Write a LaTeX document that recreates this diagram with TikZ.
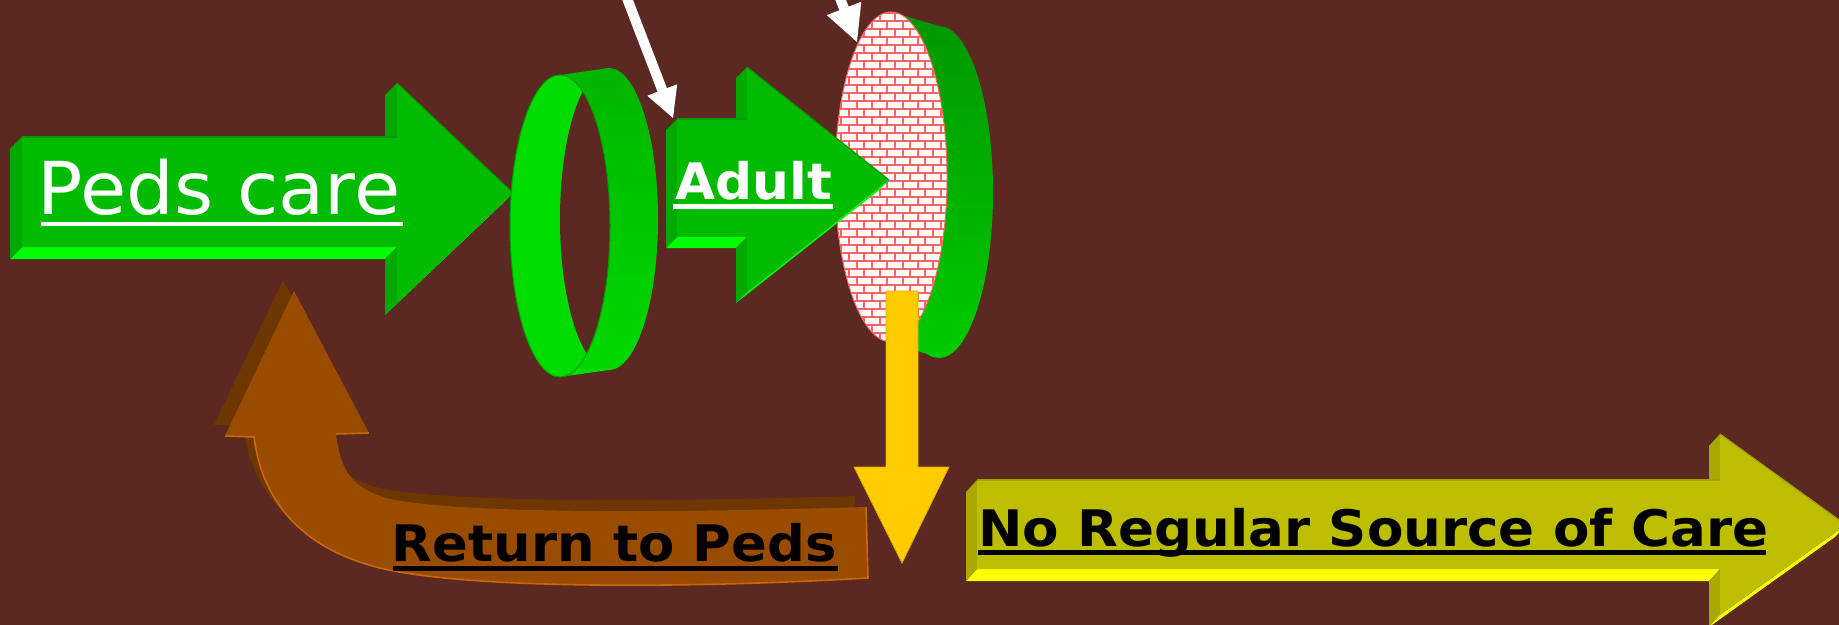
\documentclass[tikz,border=0pt]{standalone}
\usepackage{fontspec}
\setmainfont{DejaVu Sans}
\usetikzlibrary{calc}
\definecolor{bgc}{HTML}{5B2822}
\definecolor{gfront}{HTML}{00BB00}
\definecolor{gside}{HTML}{00A800}
\definecolor{gbottom}{HTML}{00FF00}
\definecolor{gedge}{HTML}{009A00}
\definecolor{ringin}{HTML}{00DC00}
\definecolor{ringtop}{HTML}{00B400}
\definecolor{ringbot}{HTML}{00DA00}
\definecolor{disctop}{HTML}{009400}
\definecolor{discbot}{HTML}{00CC00}
\definecolor{brickred}{HTML}{FF6464}
\definecolor{bfront}{HTML}{994C00}
\definecolor{bdark}{HTML}{6E3600}
\definecolor{bedge}{HTML}{CC6600}
\definecolor{ofront}{HTML}{BEBE00}
\definecolor{oside}{HTML}{A8A800}
\definecolor{obottom}{HTML}{FFFF00}
\definecolor{oedge}{HTML}{A0A000}
\definecolor{yarrow}{HTML}{FFCC00}
\definecolor{yedge}{HTML}{E0A800}

% 3D block arrow: L T B X HT HB TX TY ; extrusion \ax \ay
\newcommand\ArrowBox[8]{%
  \fill[bottomface] (#1,#3) -- (#4,#3) -- (#4+\ax,#3+\ay) -- (#1+\ax,#3+\ay) -- cycle;
  \fill[sideface] (#1,#2) -- (#1,#3) -- (#1+\ax,#3+\ay) -- (#1+\ax,#2+\ay) -- cycle;
  \fill[sideface] (#4,#5) -- (#4,#2) -- (#4+\ax,#2+\ay) -- (#4+\ax,#5+\ay) -- cycle;
  \fill[sideface] (#4,#3) -- (#4,#6) -- (#4+\ax,#6+\ay) -- (#4+\ax,#3+\ay) -- cycle;
  \fill[bottomface] (#4,#6) -- (#7,#8) -- (#7+\ax,#8+\ay) -- (#4+\ax,#6+\ay) -- cycle;
  \fill[frontface] (#1,#2) -- (#4,#2) -- (#4,#5) -- (#7,#8) -- (#4,#6) -- (#4,#3) -- (#1,#3) -- cycle;
  \draw[edgeline] (#1,#2) -- (#4,#2);
  \draw[edgeline] (#4,#5) -- (#7,#8);
}
\newcommand\BrownShape[1]{%
  \fill[#1] (294,291) -- (369,433) -- (336,434)
    .. controls (341,470) and (350,490) .. (395,500)
    .. controls (480,515) and (700,512) .. (866,507)
    -- (868,578)
    .. controls (700,588) and (470,590) .. (380,568)
    .. controls (300,548) and (262,500) .. (254,437)
    -- (225,436) -- cycle;}

\tikzset{
  lbl/.style={inner sep=0pt, anchor=base west},
  boldlbl/.style={lbl, font=\fontsize{50.3bp}{52bp}\selectfont\bfseries},
  greenarrow/.style={frontface/.style={fill=gfront}, sideface/.style={fill=gside},
    bottomface/.style={fill=gbottom}, edgeline/.style={draw=gedge, line width=1.2bp}},
  olivearrow/.style={frontface/.style={fill=ofront}, sideface/.style={fill=oside},
    bottomface/.style={fill=obottom}, edgeline/.style={draw=oedge, line width=1.2bp}},
  brickline/.style={draw=brickred, line width=2bp},
  whitearrow/.style={white, line width=10bp}
}

\begin{document}
\begin{tikzpicture}[x=1bp,y=-1bp]
\useasboundingbox (0,0) rectangle (1839,625);
\clip (0,0) rectangle (1839,625);
\fill[bgc] (0,0) rectangle (1839,625);

% ---- Return to Peds (brown curved arrow)
\BrownShape{bdark, shift={(-11,-11)}}
\BrownShape{bfront}
\draw[bedge, line width=1.6bp] (225,436) -- (254,437)
    .. controls (262,500) and (300,548) .. (380,568)
    .. controls (470,590) and (700,588) .. (868,578) -- (866,507);
\draw[bedge, line width=1.6bp] (336,434) -- (369,433);
\node[boldlbl, text=black] (ret) at (391.5,561.7) {\scalebox{1.05}[1]{Return to Peds}};
\fill[black] (393,565.5) rectangle (837.5,570.5);

% ---- Peds care arrow
\begin{scope}[greenarrow]
  \def\ax{-12}\def\ay{12}
  \ArrowBox{22}{137}{247}{397}{83}{303}{513}{193}
\end{scope}
\node[lbl, text=white, font=\fontsize{73bp}{75bp}\selectfont] (peds) at (37.5,215) {\scalebox{1.03}[1]{Peds care}};
\fill[white] (41,221.7) rectangle (403,225.7);

% ---- Ring 1 (open band)
\begin{scope}
  \clip (560,75) -- (609,68) -- (609,370) -- (560,377) -- cycle;
  \shade[top color=ringtop, bottom color=ringbot] (500,60) rectangle (670,380);
\end{scope}
\begin{scope}
  \clip (609,219) ellipse [x radius=49, y radius=151];
  \shade[top color=ringtop, bottom color=ringbot] (500,60) rectangle (670,380);
\end{scope}
\fill[ringin] (560,226) ellipse [x radius=50, y radius=151];
\begin{scope}
  \clip (560,226) ellipse [x radius=50, y radius=151];
  \fill[bgc] (609,219) ellipse [x radius=49, y radius=151];
\end{scope}
\draw[gedge, line width=1bp] (560,226) ellipse [x radius=50, y radius=151];

% ---- Ring 2 (brick disc)
\begin{scope}
  \clip (891,12) -- (939,26) -- (939,358) -- (891,342) -- cycle;
  \shade[top color=disctop, bottom color=discbot] (820,0) rectangle (1000,362);
\end{scope}
\begin{scope}
  \clip (939,192) ellipse [x radius=54, y radius=166];
  \shade[top color=disctop, bottom color=discbot] (820,0) rectangle (1000,362);
\end{scope}
\begin{scope}
  \clip (891,177) ellipse [x radius=56, y radius=165];
  \fill[white] (830,5) rectangle (955,350);
  \foreach \r in {0,...,43} {
    \pgfmathsetmacro\yy{5+\r*8}
    \pgfmathsetmacro\off{mod(\r,2)*7.65}
    \draw[brickline] (830,\yy) -- (955,\yy);
    \foreach \k in {0,...,8} {
      \draw[brickline] ({826+\off+\k*15.3},\yy) -- ++(0,8);
    }
  }
\end{scope}
\draw[brickred, line width=1bp] (891,177) ellipse [x radius=56, y radius=165];

% ---- Adult arrow
\begin{scope}[greenarrow]
  \def\ax{-11}\def\ay{11}
  \ArrowBox{677}{119}{237}{747}{67}{292}{889}{180}
\end{scope}
\node[boldlbl, text=white] (adult) at (675,200) {\scalebox{1.03}[1]{Adult}};
\fill[white] (673,204) rectangle (833,209);

% ---- white arrows from the top
\coordinate (w1s) at (620,-20);
\coordinate (w1t) at (673,118);
\coordinate (w1b) at ($(w1t)!30bp!(w1s)$);
\coordinate (w1c) at ($(w1t)!26bp!(w1s)$);
\draw[whitearrow] (w1s) -- (w1c);
\fill[white] ($(w1b)!16bp!90:(w1t)$) -- (w1t) -- ($(w1b)!16bp!-90:(w1t)$) -- cycle;

\coordinate (w2s) at (833,-20);
\coordinate (w2t) at (857,42);
\coordinate (w2b) at ($(w2t)!36bp!(w2s)$);
\coordinate (w2c) at ($(w2t)!31bp!(w2s)$);
\draw[whitearrow] (w2s) -- (w2c);
\fill[white] ($(w2b)!18.5bp!90:(w2t)$) -- (w2t) -- ($(w2b)!18.5bp!-90:(w2t)$) -- cycle;

% ---- yellow down arrow
\fill[yarrow, draw=yedge, line width=0.8bp] (886,291) -- (918,291) -- (918,467) -- (949,467)
  -- (902,563) -- (854,467) -- (886,467) -- cycle;

% ---- No Regular Source of Care arrow
\begin{scope}[olivearrow]
  \def\ax{-11}\def\ay{12}
  \ArrowBox{977}{480}{569}{1720}{434}{615}{1846}{525}
\end{scope}
\node[boldlbl, text=black] (nrs) at (978,546) {\scalebox{1.055}[1]{No Regular Source of Care}};
\fill[black] (978,550) rectangle (1766,555);
\end{tikzpicture}
\end{document}
